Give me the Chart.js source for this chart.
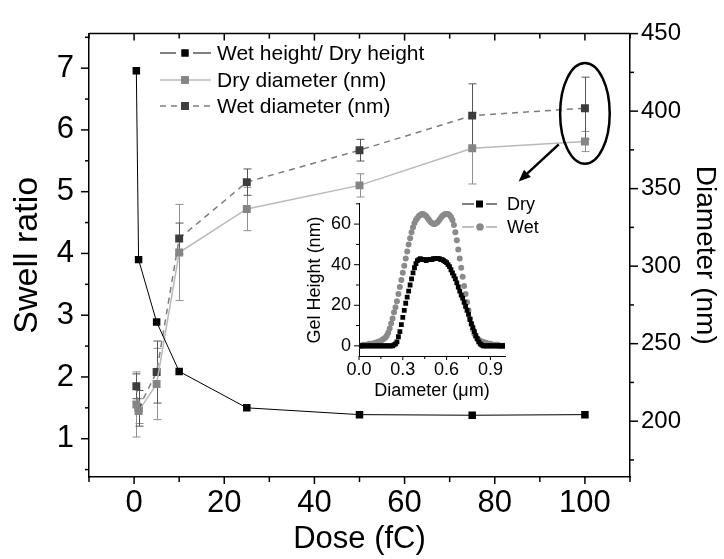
<!DOCTYPE html>
<html>
<head>
<meta charset="utf-8">
<script src="https://cdn.jsdelivr.net/npm/chart.js@4.4.1/dist/chart.umd.min.js"></script>
<style>
  html, body { margin: 0; padding: 0; background: #fff; }
  #wrap { position: relative; width: 724px; height: 559px; }
  #main { position: absolute; left: 0; top: 0; }
  #inset { position: absolute; left: 290px; top: 185px; }
</style>
</head>
<body>
<div id="wrap">
  <canvas id="main" width="724" height="559"></canvas>
  <canvas id="inset" width="270" height="220"></canvas>
</div>
<script>
// swelling series vs. electron dose
const dose = [0.5, 1, 5, 10, 25, 50, 75, 100];
const swellRatio = [6.96, 3.9, 2.89, 2.09, 1.5, 1.39, 1.38, 1.39];
const dryDiameter = [210.8, 206.5, 224, 308.8, 336.9, 352.1, 376, 380.4];
const dryError = [21, 8, 23, 31, 14, 7.5, 23, 6.5];
const wetDiameter = [222.5, 208.3, 231.7, 317.8, 354.2, 374.8, 397.1, 401.9];
const wetError = [8, 11.5, 20, 10, 8.5, 7, 20.5, 20];

const doseTicks = [-10, 0, 10, 20, 30, 40, 50, 60, 70, 80, 90, 100, 110];
const doseLabels = [0, 20, 40, 60, 80, 100];
const swellTicks = [0.5, 1, 1.5, 2, 2.5, 3, 3.5, 4, 4.5, 5, 5.5, 6, 6.5, 7, 7.5];
const swellLabels = [1, 2, 3, 4, 5, 6, 7];
const diameterTicks = [175, 200, 225, 250, 275, 300, 325, 350, 375, 400, 425, 450];
const diameterLabels = [200, 250, 300, 350, 400, 450];

// AFM cross sections of the 100 fC dot
const profileX = [
  0.00, 0.01, 0.02, 0.03, 0.04, 0.05, 0.06, 0.07, 0.08, 0.09,
  0.10, 0.11, 0.12, 0.13, 0.14, 0.15, 0.16, 0.17, 0.18, 0.19,
  0.20, 0.21, 0.22, 0.23, 0.24, 0.25, 0.26, 0.27, 0.28, 0.29,
  0.30, 0.31, 0.32, 0.33, 0.34, 0.35, 0.36, 0.37, 0.38, 0.39,
  0.40, 0.41, 0.42, 0.43, 0.44, 0.45, 0.46, 0.47, 0.48, 0.49,
  0.50, 0.51, 0.52, 0.53, 0.54, 0.55, 0.56, 0.57, 0.58, 0.59,
  0.60, 0.61, 0.62, 0.63, 0.64, 0.65, 0.66, 0.67, 0.68, 0.69,
  0.70, 0.71, 0.72, 0.73, 0.74, 0.75, 0.76, 0.77, 0.78, 0.79,
  0.80, 0.81, 0.82, 0.83, 0.84, 0.85, 0.86, 0.87, 0.88, 0.89,
  0.90, 0.91, 0.92, 0.93, 0.94, 0.95, 0.96, 0.97, 0.98, 0.99,
  1.00
];
const dryHeight = [
  0, 0, 0, 0, 0, 0, 0, 0, 0, 0,
  0, 0, 0, 0, 0, 0, 0, 0, 0, 0,
  0, 0, 0, 0, 0.5, 1, 2, 4.5, 7, 10.5,
  14, 17.5, 21, 24, 27, 30, 33, 36, 38.5, 40.5,
  42, 42.5, 43, 42.5, 42.5, 42.5, 42, 42.5, 42.5, 42.5,
  42.5, 43, 43, 43, 43, 43, 42.5, 42.5, 42, 41.5,
  41, 40, 39, 37.5, 36, 34.5, 33, 31, 29, 27,
  25, 23.5, 21.5, 19.5, 17.5, 15.5, 13, 11, 9, 7,
  5, 3.5, 2, 1, 0.5, 0, 0, 0, 0, 0,
  0, 0, 0, 0, 0, 0, 0, 0, 0, 0,
  0
];
const wetHeight = [
  0, 0, 0, 0.5, 0.5, 0.5, 0.5, 1, 1, 1,
  1, 1.5, 1.5, 2, 2, 2.5, 3, 3.5, 4, 5,
  6.5, 8.5, 11, 13.5, 16.5, 19, 22, 25.5, 29, 32.5,
  36, 39.5, 43, 46.5, 50, 53, 56, 58.5, 60.5, 62,
  63, 64, 64.5, 65, 65, 64.5, 64, 63, 62, 61,
  60.5, 60, 60, 60.5, 61, 62, 63, 64, 64.5, 65,
  65, 65, 64.5, 63.5, 62, 59.5, 56, 52, 47.5, 43,
  38.5, 34, 29.5, 25.5, 21.5, 17.5, 13.5, 10.5, 8, 6,
  4.5, 3.5, 3, 2.5, 2, 2, 1.5, 1.5, 1, 1,
  1, 0.5, 0.5, 0.5, 0.5, 0.5, 0, 0, 0, 0,
  0
];
const heightTicks = [0, 10, 20, 30, 40, 50, 60, 70];
const heightLabels = [0, 20, 40, 60];
const profileTicks = [0, 0.15, 0.3, 0.45, 0.6, 0.75, 0.9];
const profileLabels = [0, 0.3, 0.6, 0.9];

Chart.defaults.font.family = '"Liberation Sans", Arial, sans-serif';
Chart.defaults.color = '#000';

const pairs = (xs, ys) => xs.map((x, i) => ({ x: x, y: ys[i] }));
const has = (list, v) => list.some(t => Math.abs(t - v) < 1e-9);

// vertical error bars with caps, behind the markers
const errorBars = {
  id: 'errorBars',
  beforeDatasetsDraw(chart) {
    const ctx = chart.ctx;
    const xs = chart.scales.x;
    chart.data.datasets.forEach(ds => {
      if (!ds.errors) return;
      const ys = chart.scales[ds.yAxisID];
      ctx.save();
      ctx.strokeStyle = ds.errorColor;
      ctx.lineWidth = 1;
      ds.data.forEach((p, i) => {
        const px = Math.round(xs.getPixelForValue(p.x)) + 0.5;
        const top = ys.getPixelForValue(p.y + ds.errors[i]);
        const bot = ys.getPixelForValue(p.y - ds.errors[i]);
        ctx.beginPath();
        ctx.moveTo(px, top); ctx.lineTo(px, bot);
        ctx.moveTo(px - 4, top); ctx.lineTo(px + 4, top);
        ctx.moveTo(px - 4, bot); ctx.lineTo(px + 4, bot);
        ctx.stroke();
      });
      ctx.restore();
    });
  }
};

// box top edge and in/out tick marks
function drawTicks(ctx, scale, labels, major, minor, side, edge) {
  scale.ticks.forEach(t => {
    const len = has(labels, t.value) ? major : minor;
    const p = scale.getPixelForValue(t.value);
    ctx.beginPath();
    if (side === 'down') { ctx.moveTo(p, edge); ctx.lineTo(p, edge + len); }
    if (side === 'left') { ctx.moveTo(edge, p); ctx.lineTo(edge - len, p); }
    if (side === 'right') { ctx.moveTo(edge, p); ctx.lineTo(edge + len, p); }
    ctx.stroke();
  });
}

const mainFrame = {
  id: 'mainFrame',
  afterDraw(chart) {
    const { ctx, chartArea: a, scales } = chart;
    ctx.save();
    ctx.strokeStyle = '#000';
    ctx.lineWidth = 1.5;
    ctx.beginPath();
    ctx.moveTo(a.left, a.top); ctx.lineTo(a.right, a.top);
    ctx.stroke();
    drawTicks(ctx, scales.x, doseLabels, 7, 5, 'down', a.bottom);
    drawTicks(ctx, scales.x, doseLabels, 7, 5, 'down', a.top);
    drawTicks(ctx, scales.y, swellLabels, 8, 4, 'left', a.left);
    drawTicks(ctx, scales.y2, diameterLabels, 8, 4, 'right', a.right);
    ctx.restore();
  }
};

// legend rows: line sample, marker, text
const mainLegend = {
  id: 'mainLegend',
  afterDraw(chart) {
    const ctx = chart.ctx;
    const rows = [53, 80, 106];
    ctx.save();
    chart.data.datasets.forEach(ds => {
      const y = rows[ds.legendRow];
      ctx.strokeStyle = ds.borderColor;
      ctx.lineWidth = ds.borderWidth;
      ctx.setLineDash(ds.borderDash || []);
      ctx.beginPath();
      if (ds.legendRow === 0) {
        ctx.moveTo(160, y); ctx.lineTo(176, y);
        ctx.moveTo(193, y); ctx.lineTo(211, y);
      } else {
        ctx.moveTo(160, y); ctx.lineTo(211, y);
      }
      ctx.stroke();
      ctx.setLineDash([]);
      ctx.fillStyle = ds.pointBackgroundColor;
      const s = ds.pointRadius * Math.SQRT1_2;
      ctx.fillRect(185 - s, y - s, 2 * s, 2 * s);
      ctx.fillStyle = '#000';
      ctx.font = '21px "Liberation Sans", Arial, sans-serif';
      ctx.textBaseline = 'middle';
      ctx.fillText(ds.label, 217, y + 1);
    });
    ctx.restore();
  }
};

// ellipse around the 100 fC pair and arrow down to the inset
const callout = {
  id: 'callout',
  afterDatasetsDraw(chart) {
    const { ctx, scales: { x, y2 } } = chart;
    const cx = x.getPixelForValue(100);
    const cy = y2.getPixelForValue(398.5);
    const rx = x.getPixelForValue(105.5) - cx;
    const ry = y2.getPixelForValue(398.5 - 32.5) - cy;
    ctx.save();
    ctx.strokeStyle = '#000';
    ctx.lineWidth = 2.5;
    ctx.beginPath();
    ctx.ellipse(cx, cy, rx, ry, 0, 0, Math.PI * 2);
    ctx.stroke();
    const x0 = x.getPixelForValue(94.2), y0 = y2.getPixelForValue(378.6);
    const x1 = x.getPixelForValue(85.3), y1 = y2.getPixelForValue(354.6);
    const ang = Math.atan2(y1 - y0, x1 - x0);
    ctx.beginPath();
    ctx.moveTo(x0, y0);
    ctx.lineTo(x1 - 6 * Math.cos(ang), y1 - 6 * Math.sin(ang));
    ctx.stroke();
    ctx.fillStyle = '#000';
    ctx.beginPath();
    ctx.moveTo(x1, y1);
    ctx.lineTo(x1 - 13 * Math.cos(ang - 0.4), y1 - 13 * Math.sin(ang - 0.4));
    ctx.lineTo(x1 - 13 * Math.cos(ang + 0.4), y1 - 13 * Math.sin(ang + 0.4));
    ctx.closePath();
    ctx.fill();
    ctx.restore();
  }
};

new Chart(document.getElementById('main'), {
  type: 'scatter',
  data: {
    datasets: [
      {
        label: 'Wet height/ Dry height', legendRow: 0,
        data: pairs(dose, swellRatio), yAxisID: 'y',
        showLine: true, borderColor: '#000', borderWidth: 1,
        pointStyle: 'rect', pointRadius: 5.3, pointBackgroundColor: '#000',
        pointBorderWidth: 0
      },
      {
        label: 'Dry diameter (nm)', legendRow: 1,
        data: pairs(dose, dryDiameter), yAxisID: 'y2',
        errors: dryError, errorColor: '#8f8f8f',
        showLine: true, borderColor: '#b9b9b9', borderWidth: 1.5,
        pointStyle: 'rect', pointRadius: 5.6, pointBackgroundColor: '#858585',
        pointBorderWidth: 0
      },
      {
        label: 'Wet diameter (nm)', legendRow: 2,
        data: pairs(dose, wetDiameter), yAxisID: 'y2',
        errors: wetError, errorColor: '#555',
        showLine: true, borderColor: '#7d7d7d', borderWidth: 1.5, borderDash: [6, 5],
        pointStyle: 'rect', pointRadius: 5.6, pointBackgroundColor: '#3c3c3c',
        pointBorderWidth: 0
      }
    ]
  },
  options: {
    responsive: false,
    animation: false,
    devicePixelRatio: 1,
    layout: { padding: { top: 21, left: 0, right: 0, bottom: 0 } },
    plugins: { legend: { display: false }, tooltip: { enabled: false } },
    scales: {
      x: {
        type: 'linear', min: -10, max: 110,
        afterBuildTicks: s => { s.ticks = doseTicks.map(v => ({ value: v })); },
        afterFit: s => { s.height = 82; },
        grid: { drawOnChartArea: false, drawTicks: false },
        border: { color: '#000', width: 1.5 },
        ticks: {
          autoSkip: false, maxRotation: 0, padding: 8, font: { size: 31 },
          callback: v => has(doseLabels, v) ? String(v) : ''
        },
        title: { display: true, text: 'Dose (fC)', font: { size: 31 }, padding: { top: 0, bottom: 1 } }
      },
      y: {
        position: 'left', min: 0.38, max: 7.56,
        afterBuildTicks: s => { s.ticks = swellTicks.map(v => ({ value: v })); },
        afterFit: s => { s.width = 89; },
        grid: { drawOnChartArea: false, drawTicks: false },
        border: { color: '#000', width: 1.5 },
        ticks: {
          autoSkip: false, padding: 15, font: { size: 31 },
          callback: v => has(swellLabels, v) ? String(v) : ''
        },
        title: { display: true, text: 'Swell ratio', font: { size: 34 }, padding: { top: 7, bottom: 0 } }
      },
      y2: {
        position: 'right', min: 164, max: 450,
        afterBuildTicks: s => { s.ticks = diameterTicks.map(v => ({ value: v })); },
        afterFit: s => { s.width = 94; },
        grid: { drawOnChartArea: false, drawTicks: false },
        border: { color: '#000', width: 1.5 },
        ticks: {
          autoSkip: false, padding: 11, font: { size: 24 },
          callback: v => has(diameterLabels, v) ? String(v) : ''
        },
        title: { display: true, text: 'Diameter (nm)', font: { size: 28 }, padding: { top: 2, bottom: 0 } }
      }
    }
  },
  plugins: [errorBars, mainFrame, callout, mainLegend]
});

// inset: height profiles, own axes and legend
const insetFrame = {
  id: 'insetFrame',
  afterDraw(chart) {
    const { ctx, chartArea: a, scales } = chart;
    ctx.save();
    ctx.strokeStyle = '#000';
    ctx.lineWidth = 1;
    drawTicks(ctx, scales.x, profileLabels, 4, 3, 'down', a.bottom);
    drawTicks(ctx, scales.y, heightLabels, 5, 3, 'left', a.left);
    // legend
    const rows = [19, 42];
    chart.data.datasets.forEach((ds, i) => {
      const y = rows[i];
      ctx.strokeStyle = ds.legendLine;
      ctx.lineWidth = 1;
      ctx.beginPath();
      ctx.moveTo(172, y); ctx.lineTo(184, y);
      ctx.moveTo(196, y); ctx.lineTo(207, y);
      ctx.stroke();
      ctx.fillStyle = ds.pointBackgroundColor;
      ctx.beginPath();
      if (ds.pointStyle === 'rect') ctx.rect(186, y - 3.5, 7, 7);
      else ctx.arc(190, y, 3.8, 0, Math.PI * 2);
      ctx.fill();
      ctx.fillStyle = '#000';
      ctx.font = '18px "Liberation Sans", Arial, sans-serif';
      ctx.textBaseline = 'middle';
      ctx.fillText(ds.label, 217, y + 1);
    });
    ctx.restore();
  }
};

new Chart(document.getElementById('inset'), {
  type: 'scatter',
  data: {
    datasets: [
      {
        label: 'Dry', data: pairs(profileX, dryHeight), legendLine: '#000',
        pointStyle: 'rect', pointRadius: 3.4, pointBackgroundColor: '#000',
        pointBorderWidth: 0
      },
      {
        label: 'Wet', data: pairs(profileX, wetHeight), legendLine: '#808080',
        pointStyle: 'circle', pointRadius: 3, pointBackgroundColor: '#8a8a8a',
        pointBorderWidth: 0
      }
    ]
  },
  options: {
    responsive: false,
    animation: false,
    devicePixelRatio: 1,
    layout: { padding: { top: 13, right: 55, left: 0, bottom: 0 } },
    plugins: { legend: { display: false }, tooltip: { enabled: false } },
    scales: {
      x: {
        type: 'linear', min: 0, max: 1,
        afterBuildTicks: s => { s.ticks = profileTicks.map(v => ({ value: v })); },
        afterFit: s => { s.height = 49; },
        grid: { drawOnChartArea: false, drawTicks: false },
        border: { color: '#000', width: 1 },
        ticks: {
          autoSkip: false, maxRotation: 0, padding: 3, font: { size: 18 },
          callback: v => has(profileLabels, v) ? v.toFixed(1) : ''
        },
        title: { display: true, text: 'Diameter (μm)', font: { size: 18 }, padding: { top: 0, bottom: 3 } }
      },
      y: {
        min: -5, max: 70,
        afterBuildTicks: s => { s.ticks = heightTicks.map(v => ({ value: v })); },
        afterFit: s => { s.width = 69; },
        grid: { drawOnChartArea: false, drawTicks: false },
        border: { color: '#000', width: 1 },
        ticks: {
          autoSkip: false, padding: 8, font: { size: 18 },
          callback: v => has(heightLabels, v) ? String(v) : ''
        },
        title: { display: true, text: 'Gel Height (nm)', font: { size: 18 }, padding: { top: 14, bottom: 0 } }
      }
    }
  },
  plugins: [insetFrame]
});
</script>
</body>
</html>
